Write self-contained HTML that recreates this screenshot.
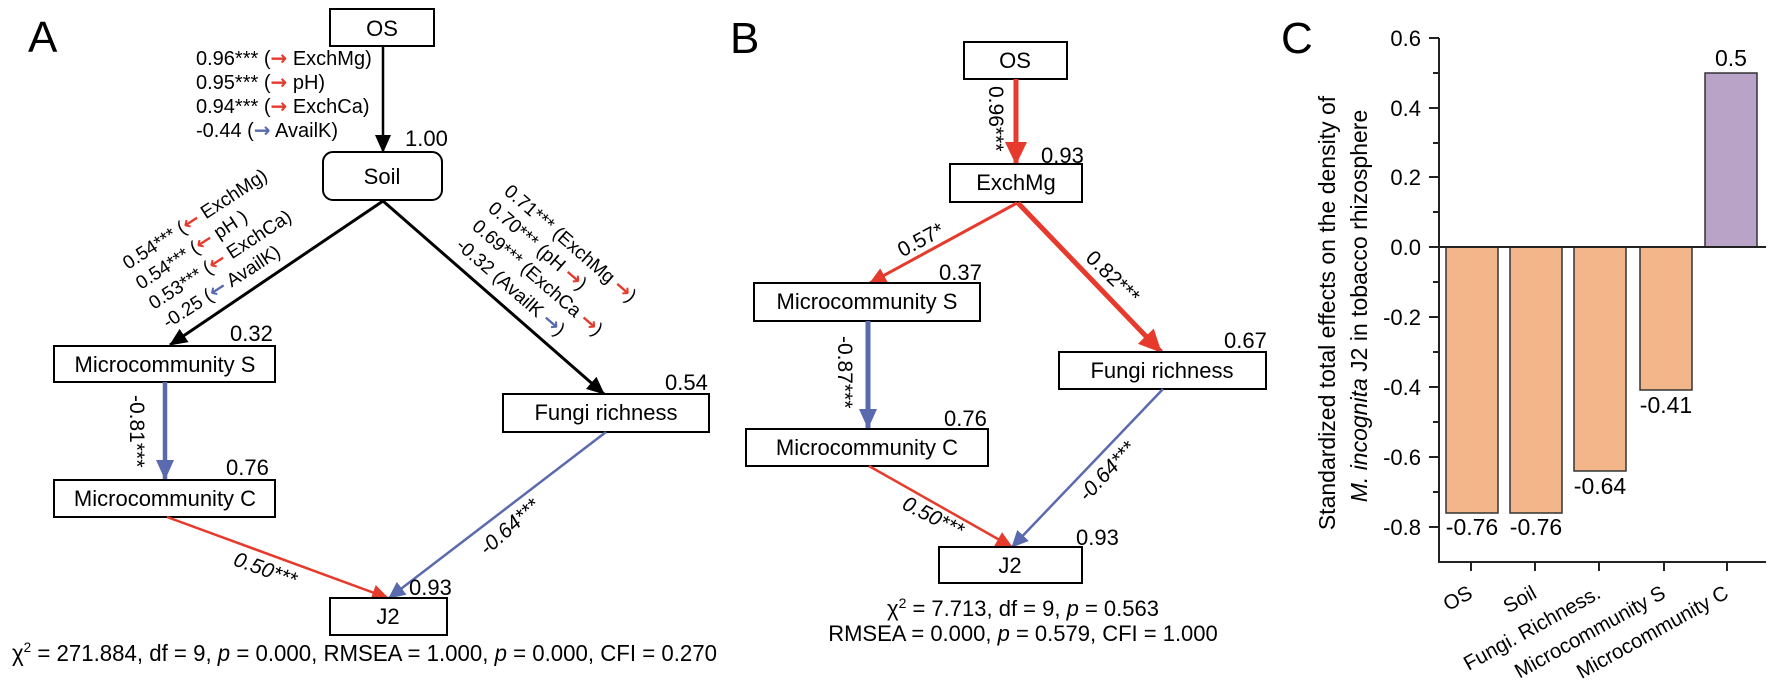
<!DOCTYPE html>
<html><head><meta charset="utf-8"><style>
html,body{margin:0;padding:0;background:#fff;}
svg{display:block;font-family:"Liberation Sans",Arial,sans-serif;}
.ar{font-weight:bold;font-size:20px;font-family:"DejaVu Sans",sans-serif;}
</style></head><body>
<svg width="1772" height="688" viewBox="0 0 1772 688" xmlns="http://www.w3.org/2000/svg">
<defs>
<marker id="kA" markerUnits="userSpaceOnUse" markerWidth="20" markerHeight="20" refX="17" refY="8" orient="auto"><path d="M0,0 L18,8 L0,16 z" fill="#000"/></marker>
<marker id="rB" markerUnits="userSpaceOnUse" markerWidth="26" markerHeight="26" refX="22" refY="11" orient="auto"><path d="M0,0 L23,11 L0,22 z" fill="#e63a2c"/></marker>
<marker id="rS" markerUnits="userSpaceOnUse" markerWidth="20" markerHeight="20" refX="16" refY="8" orient="auto"><path d="M0,0 L17,8 L0,16 z" fill="#e63a2c"/></marker>
<marker id="bB" markerUnits="userSpaceOnUse" markerWidth="26" markerHeight="26" refX="19" refY="9" orient="auto"><path d="M0,0 L20,9 L0,18 z" fill="#5a6aae"/></marker>
<marker id="bS" markerUnits="userSpaceOnUse" markerWidth="20" markerHeight="20" refX="16" refY="8" orient="auto"><path d="M0,0 L17,8 L0,16 z" fill="#5a6aae"/></marker>
</defs>

<!-- ================= PANEL A ================= -->
<text x="28" y="52" font-size="44">A</text>
<rect x="330" y="9" width="104" height="37" fill="#fff" stroke="#000" stroke-width="2"/>
<text x="382" y="36" font-size="22" text-anchor="middle">OS</text>

<g font-size="20">
<text x="196" y="65">0.96*** (<tspan class="ar" fill="#e63a2c">→</tspan> ExchMg)</text>
<text x="196" y="89">0.95*** (<tspan class="ar" fill="#e63a2c">→</tspan> pH)</text>
<text x="196" y="113">0.94*** (<tspan class="ar" fill="#e63a2c">→</tspan> ExchCa)</text>
<text x="196" y="137">-0.44 (<tspan class="ar" fill="#5a6aae">→</tspan> AvailK)</text>
</g>
<text x="405" y="146" font-size="22">1.00</text>
<line x1="383" y1="46" x2="383" y2="152" stroke="#000" stroke-width="2.5" marker-end="url(#kA)"/>
<rect x="323" y="152" width="119" height="48" rx="10" fill="#fff" stroke="#000" stroke-width="2"/>
<text x="382" y="184" font-size="22" text-anchor="middle">Soil</text>

<line x1="383" y1="201" x2="170" y2="345" stroke="#000" stroke-width="3" marker-end="url(#kA)"/>
<line x1="383" y1="201" x2="604" y2="394" stroke="#000" stroke-width="3" marker-end="url(#kA)"/>

<g font-size="19">
<text transform="translate(128,270) rotate(-33)">0.54*** (<tspan class="ar" fill="#e63a2c">←</tspan> ExchMg)</text>
<text transform="translate(141,290) rotate(-33)">0.54*** (<tspan class="ar" fill="#e63a2c">←</tspan> pH )</text>
<text transform="translate(154,310) rotate(-33)">0.53*** (<tspan class="ar" fill="#e63a2c">←</tspan> ExchCa)</text>
<text transform="translate(168,329) rotate(-33)">-0.25 (<tspan class="ar" fill="#5a6aae">←</tspan> AvailK)</text>
<text transform="translate(503,193) rotate(41)">0.71*** (ExchMg <tspan class="ar" fill="#e63a2c">→</tspan>)</text>
<text transform="translate(487,210) rotate(41)">0.70*** (pH <tspan class="ar" fill="#e63a2c">→</tspan>)</text>
<text transform="translate(471,228) rotate(41)">0.69*** (ExchCa <tspan class="ar" fill="#e63a2c">→</tspan>)</text>
<text transform="translate(455,247) rotate(41)">-0.32 (AvailK <tspan class="ar" fill="#5a6aae">→</tspan>)</text>
</g>

<text x="230" y="341" font-size="22">0.32</text>
<rect x="54" y="346" width="221" height="36" fill="#fff" stroke="#000" stroke-width="2"/>
<text x="165" y="372" font-size="22" text-anchor="middle">Microcommunity S</text>

<line x1="165" y1="382" x2="165" y2="479" stroke="#5a6aae" stroke-width="4.5" marker-end="url(#bB)"/>
<text transform="translate(130,395) rotate(90)" font-size="21">-0.81***</text>

<text x="226" y="475" font-size="22">0.76</text>
<rect x="54" y="480" width="221" height="37" fill="#fff" stroke="#000" stroke-width="2"/>
<text x="165" y="506" font-size="22" text-anchor="middle">Microcommunity C</text>

<text x="665" y="390" font-size="22">0.54</text>
<rect x="503" y="394" width="206" height="38" fill="#fff" stroke="#000" stroke-width="2"/>
<text x="606" y="420" font-size="22" text-anchor="middle">Fungi richness</text>

<line x1="167" y1="517" x2="388" y2="598" stroke="#e63a2c" stroke-width="2.5" marker-end="url(#rS)"/>
<line x1="606" y1="432" x2="389" y2="598" stroke="#5a6aae" stroke-width="2.5" marker-end="url(#bS)"/>
<text transform="translate(263,576) rotate(20)" font-size="21" font-style="italic" text-anchor="middle">0.50***</text>
<text transform="translate(514,532) rotate(-42)" font-size="21" font-style="italic" text-anchor="middle">-0.64***</text>

<text x="409" y="595" font-size="22">0.93</text>
<rect x="330" y="598" width="117" height="37" fill="#fff" stroke="#000" stroke-width="2"/>
<text x="388" y="624" font-size="22" text-anchor="middle">J2</text>

<text x="12" y="661" font-size="23" textLength="705" lengthAdjust="spacingAndGlyphs">χ<tspan font-size="14" dy="-9">2</tspan><tspan dy="9"> = 271.884, df = 9, </tspan><tspan font-style="italic">p</tspan> = 0.000, RMSEA = 1.000, <tspan font-style="italic">p</tspan> = 0.000, CFI = 0.270</text>

<!-- ================= PANEL B ================= -->
<text x="730" y="53" font-size="44">B</text>
<rect x="964" y="42" width="103" height="37" fill="#fff" stroke="#000" stroke-width="2"/>
<text x="1015" y="68" font-size="22" text-anchor="middle">OS</text>
<line x1="1016" y1="79" x2="1016" y2="164" stroke="#e63a2c" stroke-width="5" marker-end="url(#rB)"/>
<text transform="translate(989,86) rotate(90)" font-size="21">0.96***</text>
<text x="1041" y="163" font-size="22">0.93</text>
<rect x="950" y="164" width="132" height="38" fill="#fff" stroke="#000" stroke-width="2"/>
<text x="1016" y="190" font-size="22" text-anchor="middle">ExchMg</text>

<line x1="1017" y1="203" x2="870" y2="283" stroke="#e63a2c" stroke-width="3" marker-end="url(#rS)"/>
<line x1="1018" y1="203" x2="1161" y2="352" stroke="#e63a2c" stroke-width="5" marker-end="url(#rB)"/>
<text transform="translate(924,246) rotate(-28)" font-size="21" text-anchor="middle">0.57*</text>
<text transform="translate(1108,282) rotate(44)" font-size="21" text-anchor="middle">0.82***</text>

<text x="939" y="280" font-size="22">0.37</text>
<rect x="754" y="283" width="226" height="38" fill="#fff" stroke="#000" stroke-width="2"/>
<text x="867" y="309" font-size="22" text-anchor="middle">Microcommunity S</text>

<line x1="868" y1="321" x2="868" y2="428" stroke="#5a6aae" stroke-width="5" marker-end="url(#bB)"/>
<text transform="translate(838,336) rotate(90)" font-size="21">-0.87***</text>

<text x="944" y="426" font-size="22">0.76</text>
<rect x="746" y="429" width="242" height="37" fill="#fff" stroke="#000" stroke-width="2"/>
<text x="867" y="455" font-size="22" text-anchor="middle">Microcommunity C</text>

<text x="1224" y="348" font-size="22">0.67</text>
<rect x="1059" y="352" width="207" height="37" fill="#fff" stroke="#000" stroke-width="2"/>
<text x="1162" y="378" font-size="22" text-anchor="middle">Fungi richness</text>

<line x1="869" y1="466" x2="1012" y2="547" stroke="#e63a2c" stroke-width="2.5" marker-end="url(#rS)"/>
<line x1="1163" y1="389" x2="1012" y2="547" stroke="#5a6aae" stroke-width="2.5" marker-end="url(#bS)"/>
<text transform="translate(930,523) rotate(27)" font-size="21" font-style="italic" text-anchor="middle">0.50***</text>
<text transform="translate(1112,476) rotate(-47)" font-size="21" font-style="italic" text-anchor="middle">-0.64***</text>

<text x="1076" y="545" font-size="22">0.93</text>
<rect x="939" y="547" width="143" height="36" fill="#fff" stroke="#000" stroke-width="2"/>
<text x="1010" y="573" font-size="22" text-anchor="middle">J2</text>

<text x="1023" y="616" font-size="22" text-anchor="middle">χ<tspan font-size="14" dy="-8">2</tspan><tspan dy="8"> = 7.713, df = 9, </tspan><tspan font-style="italic">p</tspan> = 0.563</text>
<text x="1023" y="641" font-size="22" text-anchor="middle">RMSEA = 0.000, <tspan font-style="italic">p</tspan> = 0.579, CFI = 1.000</text>

<!-- ================= PANEL C ================= -->
<text x="1281" y="53" font-size="44">C</text>
<g font-size="23">
<text transform="translate(1335,313) rotate(-90)" text-anchor="middle">Standardized total effects on the density of</text>
<text transform="translate(1367,306) rotate(-90)" text-anchor="middle"><tspan font-style="italic">M. incognita</tspan>  J2 in tobacco rhizosphere</text>
</g>

<g fill="#f3b68a" stroke="#333" stroke-width="1.5">
<rect x="1446" y="247" width="52" height="266"/>
<rect x="1510" y="247" width="52" height="266"/>
<rect x="1574" y="247" width="52" height="224"/>
<rect x="1640" y="247" width="52" height="143"/>
</g>
<rect x="1705" y="73" width="52" height="174" fill="#b9a3c6" stroke="#333" stroke-width="1.5"/>

<g stroke="#222" stroke-width="2">
<line x1="1439" y1="38" x2="1439" y2="562"/>
<line x1="1438" y1="562" x2="1766" y2="562"/>
<line x1="1439" y1="247" x2="1766" y2="247"/>
<line x1="1429" y1="38" x2="1439" y2="38"/>
<line x1="1429" y1="108" x2="1439" y2="108"/>
<line x1="1429" y1="177" x2="1439" y2="177"/>
<line x1="1429" y1="247" x2="1439" y2="247"/>
<line x1="1429" y1="317" x2="1439" y2="317"/>
<line x1="1429" y1="387" x2="1439" y2="387"/>
<line x1="1429" y1="457" x2="1439" y2="457"/>
<line x1="1429" y1="527" x2="1439" y2="527"/>
<line x1="1433" y1="73" x2="1439" y2="73"/>
<line x1="1433" y1="143" x2="1439" y2="143"/>
<line x1="1433" y1="212" x2="1439" y2="212"/>
<line x1="1433" y1="282" x2="1439" y2="282"/>
<line x1="1433" y1="352" x2="1439" y2="352"/>
<line x1="1433" y1="422" x2="1439" y2="422"/>
<line x1="1433" y1="492" x2="1439" y2="492"/>
<line x1="1471" y1="562" x2="1471" y2="571"/>
<line x1="1535" y1="562" x2="1535" y2="571"/>
<line x1="1599" y1="562" x2="1599" y2="571"/>
<line x1="1664" y1="562" x2="1664" y2="571"/>
<line x1="1727" y1="562" x2="1727" y2="571"/>
</g>

<g font-size="22" text-anchor="end">
<text x="1421" y="46">0.6</text>
<text x="1421" y="116">0.4</text>
<text x="1421" y="185">0.2</text>
<text x="1421" y="255">0.0</text>
<text x="1421" y="325">-0.2</text>
<text x="1421" y="395">-0.4</text>
<text x="1421" y="465">-0.6</text>
<text x="1421" y="535">-0.8</text>
</g>

<g font-size="23" text-anchor="middle">
<text x="1472" y="535">-0.76</text>
<text x="1536" y="535">-0.76</text>
<text x="1600" y="494">-0.64</text>
<text x="1666" y="413">-0.41</text>
<text x="1731" y="66">0.5</text>
</g>

<g font-size="20.5" text-anchor="end">
<text transform="translate(1474,597) rotate(-29)">OS</text>
<text transform="translate(1538,597) rotate(-29)">Soil</text>
<text transform="translate(1602,597) rotate(-29)">Fungi. Richness.</text>
<text transform="translate(1667,597) rotate(-29)">Microcommunity S</text>
<text transform="translate(1730,597) rotate(-29)">Microcommunity C</text>
</g>
</svg>
</body></html>
